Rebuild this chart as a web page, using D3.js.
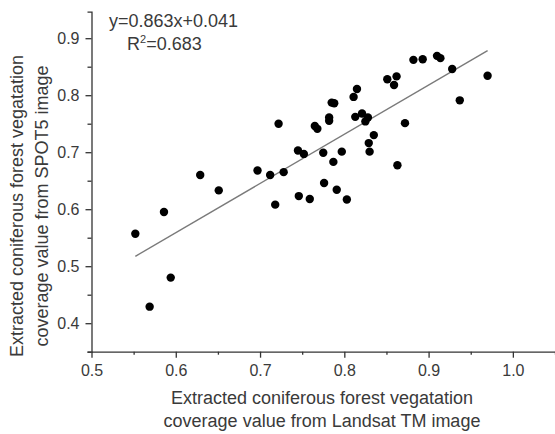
<!DOCTYPE html>
<html>
<head>
<meta charset="utf-8">
<script src="https://cdn.jsdelivr.net/npm/d3@7"></script>
<style>
  body { margin: 0; background: #fff; }
  svg { display: block; font-family: 'Liberation Sans', Arial, sans-serif; }
  .tick text { fill: #3a3a3a; font-size: 16px; }
  .axis path, .axis line { stroke: #333; stroke-width: 1.3; }
  .title { fill: #3a3a3a; font-size: 18px; }
  .fit-line { stroke: #7a7a7a; stroke-width: 1.4; fill: none; }
</style>
</head>
<body>
<svg></svg>
<script>
// Landsat TM (x) vs SPOT5 (y) extracted coverage values
const landsatValues = [0.552, 0.586, 0.594, 0.569, 0.629, 0.651, 0.697, 0.712, 0.728, 0.718,
  0.745, 0.752, 0.746, 0.759, 0.775, 0.797, 0.787, 0.829, 0.830, 0.863,
  0.776, 0.791, 0.803, 0.882, 0.893, 0.910, 0.914, 0.928, 0.970, 0.937,
  0.851, 0.862, 0.859, 0.815, 0.811, 0.785, 0.788, 0.782, 0.782, 0.765,
  0.768, 0.813, 0.821, 0.828, 0.825, 0.872, 0.835, 0.722];
const spot5Values = [0.557, 0.595, 0.480, 0.429, 0.660, 0.633, 0.668, 0.660, 0.665, 0.608,
  0.703, 0.697, 0.623, 0.618, 0.699, 0.701, 0.683, 0.716, 0.701, 0.677,
  0.646, 0.634, 0.617, 0.862, 0.863, 0.869, 0.865, 0.846, 0.834, 0.791,
  0.828, 0.833, 0.818, 0.811, 0.797, 0.787, 0.786, 0.761, 0.755, 0.746,
  0.741, 0.762, 0.768, 0.761, 0.754, 0.751, 0.730, 0.750];

const xTicks = [0.5, 0.6, 0.7, 0.8, 0.9, 1.0];
const xMinorTicks = [0.55, 0.65, 0.75, 0.85, 0.95, 1.05];
const yTicks = [0.4, 0.5, 0.6, 0.7, 0.8, 0.9];
const yMinorTicks = [0.35, 0.45, 0.55, 0.65, 0.75, 0.85];

const slope = 0.863;
const intercept = 0.041;
const fitRange = [0.552, 0.97];

const width = 555;
const height = 434;

const svg = d3.select('svg')
  .attr('width', width)
  .attr('height', height);

const data = landsatValues.map((x, i) => ({x: x, y: spot5Values[i]}));

const xScale = d3.scaleLinear()
  .domain([0.5, 1.05])
  .range([91.5, 555]);

const yScale = d3.scaleLinear()
  .domain([0.35, 0.9465])
  .range([351.7, 11.7]);

// minor ticks first, then major ticks with labels
svg.append('g')
  .attr('class', 'axis')
  .attr('transform', `translate(0, ${yScale(0.35)})`)
  .call(d3.axisBottom(xScale).tickValues(xMinorTicks).tickFormat('').tickSize(3).tickSizeOuter(0))
  .select('.domain').remove();

svg.append('g')
  .attr('class', 'axis')
  .attr('transform', `translate(0, ${yScale(0.35)})`)
  .call(d3.axisBottom(xScale)
    .tickValues(xTicks)
    .tickFormat(d3.format('.1f'))
    .tickSize(6)
    .tickSizeOuter(0)
    .tickPadding(7));

svg.append('g')
  .attr('class', 'axis')
  .attr('transform', `translate(${xScale(0.5)}, 0)`)
  .call(d3.axisLeft(yScale).tickValues(yMinorTicks).tickFormat('').tickSize(4).tickSizeOuter(0))
  .select('.domain').remove();

svg.append('g')
  .attr('class', 'axis')
  .attr('transform', `translate(${xScale(0.5)}, 0)`)
  .call(d3.axisLeft(yScale)
    .tickValues(yTicks)
    .tickFormat(d3.format('.1f'))
    .tickSize(6)
    .tickSizeOuter(4)
    .tickPadding(6));

// regression line
const lineGenerator = d3.line()
  .x(d => xScale(d))
  .y(d => yScale(slope * d + intercept));

svg.append('path')
  .attr('class', 'fit-line')
  .attr('d', lineGenerator(fitRange));

svg.selectAll('circle')
  .data(data)
  .enter().append('circle')
    .attr('cx', d => xScale(d.x))
    .attr('cy', d => yScale(d.y))
    .attr('r', 4.2)
    .attr('fill', '#000');

// equation text
svg.append('text')
  .attr('class', 'title')
  .attr('x', 109)
  .attr('y', 26.5)
  .text(`y=${slope}x+${intercept}`);

const r2 = svg.append('text')
  .attr('class', 'title')
  .attr('x', 127)
  .attr('y', 49.5);
r2.append('tspan').text('R');
r2.append('tspan').attr('dy', -7).style('font-size', '11px').text('2');
r2.append('tspan').attr('dy', 7).text('=0.683');

// axis titles
const xTitle = svg.append('text')
  .attr('class', 'title')
  .attr('text-anchor', 'middle');
xTitle.append('tspan').attr('x', 322).attr('y', 404).text('Extracted coniferous forest vegatation');
xTitle.append('tspan').attr('x', 322).attr('y', 427).text('coverage value from Landsat TM image');

const yTitle = svg.append('text')
  .attr('class', 'title')
  .attr('text-anchor', 'middle')
  .attr('transform', 'translate(0, 206) rotate(-90)');
yTitle.append('tspan').attr('x', 0).attr('y', 23).text('Extracted coniferous forest vegatation');
yTitle.append('tspan').attr('x', 0).attr('y', 48).text('coverage value from SPOT5 image');
</script>
</body>
</html>
